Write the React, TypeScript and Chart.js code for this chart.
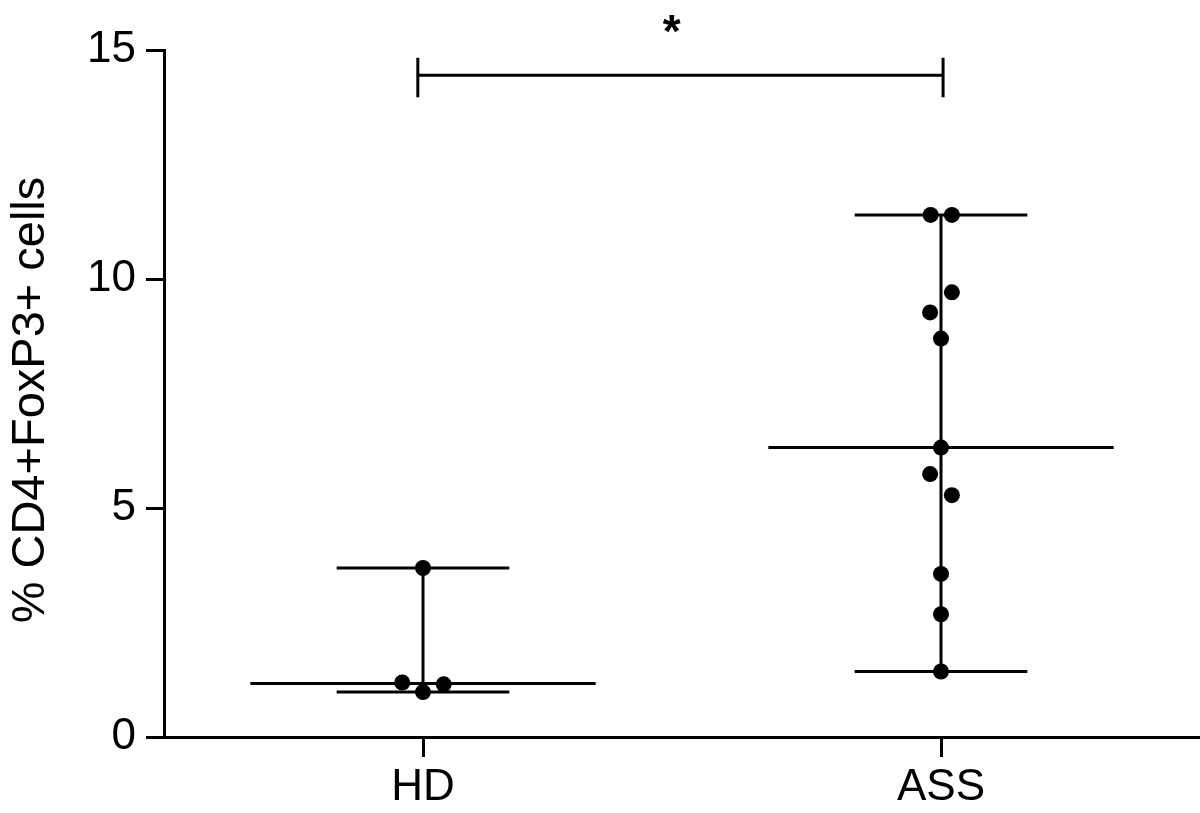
import React, { useEffect, useRef } from "react";
import { Chart, registerables } from "chart.js";

Chart.register(...registerables);

// ---- data ----
const categories = ["HD", "ASS"];
const hdValues = [1.19, 0.98, 1.15, 3.69];
const hdJitter = [-0.04, 0, 0.04, 0];
const assValues = [11.4, 11.4, 9.71, 9.27, 8.7, 6.32, 5.74, 5.28, 3.56, 2.68, 1.43];
const assJitter = [-0.02, 0.021, 0.021, -0.021, 0, 0, -0.021, 0.021, 0, 0, 0];
const yTicks = [0, 5, 10, 15];
const yTitle = "% CD4+FoxP3+ cells ";
const significanceLabel = "*";
const bracketStart = -0.01;
const bracketEnd = 1.004;
const bracketLevel = 14.45;
const bracketTop = 14.83;
const bracketBottom = 13.97;
const starX = 0.48;
const starY = 15.63;

const FONT = "'Liberation Sans', Arial, Helvetica, sans-serif";

const median = (arr: number[]) => {
  const s = [...arr].sort((a, b) => a - b);
  const m = Math.floor(s.length / 2);
  return s.length % 2 ? s[m] : (s[m - 1] + s[m]) / 2;
};

const groups = [
  { values: hdValues, jitter: hdJitter },
  { values: assValues, jitter: assJitter },
];

const lineStyle = {
  borderColor: "#000",
  backgroundColor: "#000",
  borderWidth: 3,
  pointRadius: 0,
  showLine: true,
  clip: false as any,
};

export default function App() {
  const ref = useRef<HTMLCanvasElement>(null);

  useEffect(() => {
    if (!ref.current) return;
    const datasets: any[] = [];
    groups.forEach((g, i) => {
      const med = median(g.values);
      const mn = Math.min(...g.values);
      const mx = Math.max(...g.values);
      datasets.push({ ...lineStyle, data: [{ x: i - 1 / 3, y: med }, { x: i + 1 / 3, y: med }] });
      datasets.push({ ...lineStyle, data: [{ x: i - 1 / 6, y: mn }, { x: i + 1 / 6, y: mn }] });
      datasets.push({ ...lineStyle, data: [{ x: i - 1 / 6, y: mx }, { x: i + 1 / 6, y: mx }] });
      datasets.push({ ...lineStyle, data: [{ x: i, y: mn }, { x: i, y: mx }] });
    });
    // significance bracket
    datasets.push({
      ...lineStyle,
      data: [
        { x: bracketStart, y: bracketTop },
        { x: bracketStart, y: bracketBottom },
        { x: bracketStart, y: bracketLevel },
        { x: bracketEnd, y: bracketLevel },
        { x: bracketEnd, y: bracketTop },
        { x: bracketEnd, y: bracketBottom },
      ],
    });
    groups.forEach((g, i) => {
      datasets.push({
        data: g.values.map((v, k) => ({ x: i + g.jitter[k], y: v })),
        backgroundColor: "#000",
        borderColor: "#000",
        pointRadius: 8,
        pointBorderWidth: 0,
        showLine: false,
        clip: false,
      });
    });

    const starPlugin = {
      id: "star",
      afterDatasetsDraw(chart: any) {
        const ctx = chart.ctx;
        const x = chart.scales.x.getPixelForValue(starX);
        const y = chart.scales.y.getPixelForValue(starY);
        const size = 46;
        ctx.save();
        ctx.fillStyle = "#000";
        ctx.font = `bold ${size}px ${FONT}`;
        ctx.textAlign = "center";
        ctx.textBaseline = "alphabetic";
        ctx.fillText(significanceLabel, x, y + 0.57 * size);
        ctx.restore();
      },
    };

    const chart = new Chart(ref.current, {
      type: "scatter",
      data: { datasets },
      plugins: [starPlugin],
      options: {
        responsive: false,
        animation: false,
        devicePixelRatio: 1,
        layout: { autoPadding: false, padding: { top: 50, left: 0, right: 0, bottom: 0 } },
        plugins: { legend: { display: false }, tooltip: { enabled: false } },
        scales: {
          x: {
            type: "linear",
            min: -0.5,
            max: 1.5,
            afterBuildTicks: (scale: any) => {
              scale.ticks = categories.map((_, i) => ({ value: i }));
            },
            afterFit: (scale: any) => {
              scale.height = 76;
              scale.paddingLeft = 0;
              scale.paddingRight = 0;
            },
            ticks: {
              callback: (v: any) => categories[Math.round(Number(v))] ?? "",
              font: { family: FONT, size: 44 },
              color: "#000",
              padding: 4,
              maxRotation: 0,
            },
            grid: {
              display: true,
              drawOnChartArea: false,
              drawTicks: true,
              tickLength: 20,
              tickWidth: 3,
              tickColor: "#000",
              color: "#000",
            },
            border: { display: true, color: "#000", width: 3 },
          },
          y: {
            type: "linear",
            min: 0,
            max: 15,
            afterBuildTicks: (scale: any) => {
              scale.ticks = yTicks.map((v) => ({ value: v }));
            },
            afterFit: (scale: any) => {
              scale.width = 164;
            },
            ticks: {
              font: { family: FONT, size: 44 },
              color: "#000",
              padding: 10,
            },
            grid: {
              display: true,
              drawOnChartArea: false,
              drawTicks: true,
              tickLength: 18,
              tickWidth: 3,
              tickColor: "#000",
              color: "#000",
            },
            border: { display: true, color: "#000", width: 3 },
            title: {
              display: true,
              text: yTitle,
              font: { family: FONT, size: 47 },
              color: "#000",
              padding: { top: 3, bottom: 0 },
            },
          },
        },
      },
    });
    return () => chart.destroy();
  }, []);

  return (
    <div style={{ position: "absolute", left: 0, top: 0, width: 1200, height: 813, background: "#fff" }}>
      <canvas ref={ref} width={1200} height={813} style={{ display: "block" }} />
    </div>
  );
}
